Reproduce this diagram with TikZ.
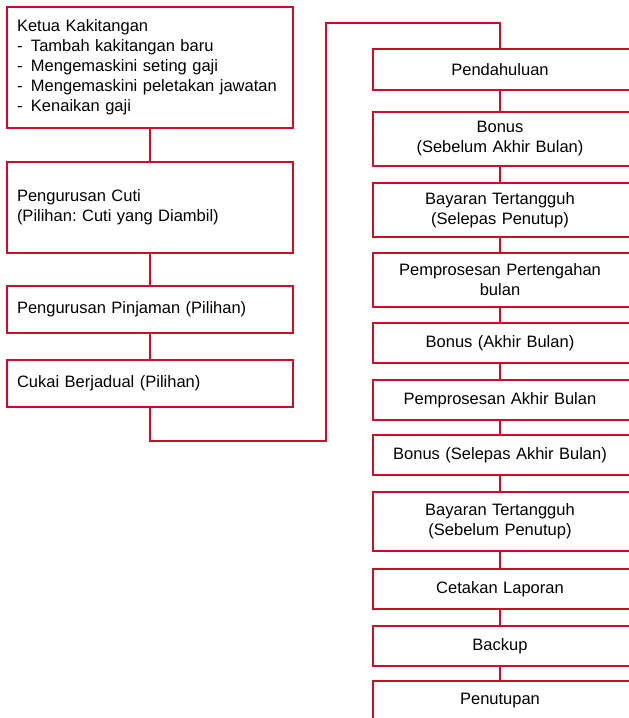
\documentclass[tikz,border=0pt]{standalone}
\usepackage{fontspec}
\setmainfont{Liberation Sans}
\usepackage{tikz}
\usetikzlibrary{positioning}
\definecolor{kred}{RGB}{204,12,40}
\newcommand{\itm}{\makebox[14pt][l]{-}}
\frenchspacing

\begin{document}
\begin{tikzpicture}[x=1pt, y=-1pt,
		font=\fontsize{16.5}{20}\selectfont,
		lbox/.style={draw=kred, line width=1.5pt, minimum width=286pt, text width=266pt, inner xsep=10pt, align=left},
		rbox/.style={minimum width=254pt, text width=240pt, align=center},
		link/.style={draw=kred, line width=2.8pt}]
		\useasboundingbox (0,0) rectangle (629,718);
		\clip (0,0) rectangle (629,718);
		% Left column
		\node[lbox, minimum height=121pt] (ketua) at (150,67.5) {Ketua Kakitangan\\ \itm Tambah kakitangan baru\\ \itm Mengemaskini seting gaji\\ \itm Mengemaskini peletakan jawatan\\ \itm Kenaikan gaji};
		\node[lbox, minimum height=91pt] (cuti) at (150,207.5) {Pengurusan Cuti\\ (Pilihan: Cuti yang Diambil)};
		\node[lbox, minimum height=47pt] (pinjaman) at (150,309.5) {Pengurusan Pinjaman (Pilihan)};
		\node[lbox, minimum height=47pt] (cukai) at (150,383.5) {Cukai Berjadual (Pilihan)};

		% Right column
		\node[rbox, minimum height=41pt] (pendahuluan) at (500,69.5) {Pendahuluan};
		\node[rbox, minimum height=54pt] (bonusA) at (500,139) {Bonus\\ (Sebelum Akhir Bulan)};
		\node[rbox, minimum height=54pt] (tangguhA) at (500,210) {Bayaran Tertangguh\\ (Selepas Penutup)};
		\node[rbox, minimum height=54pt] (tengah) at (500,280) {Pemprosesan Pertengahan\\ bulan};
		\node[rbox, minimum height=40pt] (bonusB) at (500,343) {Bonus (Akhir Bulan)};
		\node[rbox, minimum height=40pt] (akhir) at (500,400) {Pemprosesan Akhir Bulan};
		\node[rbox, minimum height=40pt] (bonusC) at (500,455) {Bonus (Selepas Akhir Bulan)};
		\node[rbox, minimum height=59pt] (tangguhB) at (500,521.5) {Bayaran Tertangguh\\ (Sebelum Penutup)};
		\node[rbox, minimum height=40pt] (laporan) at (500,589) {Cetakan Laporan};
		\node[rbox, minimum height=40pt] (backup) at (500,646) {Backup};
		\node[rbox, minimum height=40pt] (penutupan) at (500,701) {Penutupan};

		% Box outlines, running off the right edge
		\foreach \n in {pendahuluan,bonusA,tangguhA,tengah,bonusB,akhir,bonusC,tangguhB,laporan,backup,penutupan}
			\draw[kred, line width=1.5pt] ([xshift=300pt]\n.north west) -- (\n.north west) -- (\n.south west) -- ([xshift=300pt]\n.south west);

		% Connectors
		\draw[link] (ketua.south) -- (cuti.north);
		\draw[link] (cuti.south) -- (pinjaman.north);
		\draw[link] (pinjaman.south) -- (cukai.north);
		\coordinate (bendA) at (326,441);
		\coordinate (bendB) at (500,23);
		\draw[link] (cukai.south) |- (bendA) |- (bendB) -- (pendahuluan.north);
		\foreach \a/\b in {pendahuluan/bonusA, bonusA/tangguhA, tangguhA/tengah, tengah/bonusB, bonusB/akhir, akhir/bonusC, bonusC/tangguhB, tangguhB/laporan, laporan/backup, backup/penutupan}
			\draw[link] (\a.south) -- (\b.north);
	\end{tikzpicture}
\end{document}
